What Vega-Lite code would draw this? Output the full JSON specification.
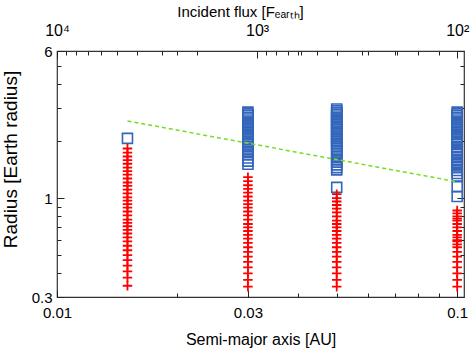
{
  "$schema": "https://vega.github.io/schema/vega-lite/v6.json",
  "width": 407,
  "height": 246,
  "autosize": "none",
  "padding": {"left": 57, "top": 51, "right": 11, "bottom": 55},
  "config": {
    "view": {"stroke": "#333333", "strokeWidth": 1.2},
    "axis": {
      "grid": false,
      "domain": false,
      "tickColor": "#222222",
      "tickWidth": 1,
      "tickSize": -5,
      "labelFont": "Liberation Sans",
      "labelFontSize": 15,
      "labelColor": "#000000",
      "titleFont": "Liberation Sans",
      "titleFontSize": 15,
      "titleFontWeight": "normal",
      "titleColor": "#000000",
      "labelFlush": false,
      "labelOverlap": false
    }
  },
  "datasets": {
    "planets": [
      {"a": 0.015, "r": 2.07, "kind": "blue"},
      {"a": 0.015, "r": 1.83, "kind": "red"}, {"a": 0.015, "r": 1.74, "kind": "red"}, {"a": 0.015, "r": 1.66, "kind": "red"}, {"a": 0.015, "r": 1.59, "kind": "red"}, {"a": 0.015, "r": 1.52, "kind": "red"}, {"a": 0.015, "r": 1.45, "kind": "red"}, {"a": 0.015, "r": 1.39, "kind": "red"}, {"a": 0.015, "r": 1.33, "kind": "red"}, {"a": 0.015, "r": 1.27, "kind": "red"}, {"a": 0.015, "r": 1.21, "kind": "red"}, {"a": 0.015, "r": 1.16, "kind": "red"}, {"a": 0.015, "r": 1.11, "kind": "red"}, {"a": 0.015, "r": 1.06, "kind": "red"}, {"a": 0.015, "r": 1.01, "kind": "red"}, {"a": 0.015, "r": 0.97, "kind": "red"}, {"a": 0.015, "r": 0.93, "kind": "red"}, {"a": 0.015, "r": 0.89, "kind": "red"}, {"a": 0.015, "r": 0.85, "kind": "red"}, {"a": 0.015, "r": 0.81, "kind": "red"}, {"a": 0.015, "r": 0.77, "kind": "red"}, {"a": 0.015, "r": 0.74, "kind": "red"}, {"a": 0.015, "r": 0.71, "kind": "red"}, {"a": 0.015, "r": 0.68, "kind": "red"}, {"a": 0.015, "r": 0.65, "kind": "red"}, {"a": 0.015, "r": 0.62, "kind": "red"}, {"a": 0.015, "r": 0.59, "kind": "red"}, {"a": 0.015, "r": 0.56, "kind": "red"}, {"a": 0.015, "r": 0.53, "kind": "red"}, {"a": 0.015, "r": 0.5, "kind": "red"}, {"a": 0.015, "r": 0.47, "kind": "red"}, {"a": 0.015, "r": 0.44, "kind": "red"}, {"a": 0.015, "r": 0.41, "kind": "red"}, {"a": 0.015, "r": 0.38, "kind": "red"}, {"a": 0.015, "r": 0.344, "kind": "red"},
      {"a": 0.03, "r": 2.85, "kind": "blue"}, {"a": 0.03, "r": 2.79, "kind": "blue"}, {"a": 0.03, "r": 2.73, "kind": "blue"}, {"a": 0.03, "r": 2.67, "kind": "blue"}, {"a": 0.03, "r": 2.62, "kind": "blue"}, {"a": 0.03, "r": 2.56, "kind": "blue"}, {"a": 0.03, "r": 2.51, "kind": "blue"}, {"a": 0.03, "r": 2.46, "kind": "blue"}, {"a": 0.03, "r": 2.41, "kind": "blue"}, {"a": 0.03, "r": 2.36, "kind": "blue"}, {"a": 0.03, "r": 2.31, "kind": "blue"}, {"a": 0.03, "r": 2.26, "kind": "blue"}, {"a": 0.03, "r": 2.21, "kind": "blue"}, {"a": 0.03, "r": 2.17, "kind": "blue"}, {"a": 0.03, "r": 2.12, "kind": "blue"}, {"a": 0.03, "r": 2.08, "kind": "blue"}, {"a": 0.03, "r": 2.04, "kind": "blue"}, {"a": 0.03, "r": 2.0, "kind": "blue"}, {"a": 0.03, "r": 1.96, "kind": "blue"}, {"a": 0.03, "r": 1.92, "kind": "blue"}, {"a": 0.03, "r": 1.88, "kind": "blue"}, {"a": 0.03, "r": 1.81, "kind": "blue"}, {"a": 0.03, "r": 1.75, "kind": "blue"}, {"a": 0.03, "r": 1.69, "kind": "blue"}, {"a": 0.03, "r": 1.63, "kind": "blue"}, {"a": 0.03, "r": 1.57, "kind": "blue"}, {"a": 0.03, "r": 1.51, "kind": "blue"},
      {"a": 0.03, "r": 1.29, "kind": "red"}, {"a": 0.03, "r": 1.23, "kind": "red"}, {"a": 0.03, "r": 1.17, "kind": "red"}, {"a": 0.03, "r": 1.12, "kind": "red"}, {"a": 0.03, "r": 1.07, "kind": "red"}, {"a": 0.03, "r": 1.02, "kind": "red"}, {"a": 0.03, "r": 0.97, "kind": "red"}, {"a": 0.03, "r": 0.93, "kind": "red"}, {"a": 0.03, "r": 0.89, "kind": "red"}, {"a": 0.03, "r": 0.85, "kind": "red"}, {"a": 0.03, "r": 0.81, "kind": "red"}, {"a": 0.03, "r": 0.77, "kind": "red"}, {"a": 0.03, "r": 0.73, "kind": "red"}, {"a": 0.03, "r": 0.7, "kind": "red"}, {"a": 0.03, "r": 0.67, "kind": "red"}, {"a": 0.03, "r": 0.64, "kind": "red"}, {"a": 0.03, "r": 0.61, "kind": "red"}, {"a": 0.03, "r": 0.58, "kind": "red"}, {"a": 0.03, "r": 0.55, "kind": "red"}, {"a": 0.03, "r": 0.52, "kind": "red"}, {"a": 0.03, "r": 0.49, "kind": "red"}, {"a": 0.03, "r": 0.46, "kind": "red"}, {"a": 0.03, "r": 0.43, "kind": "red"}, {"a": 0.03, "r": 0.4, "kind": "red"}, {"a": 0.03, "r": 0.37, "kind": "red"}, {"a": 0.03, "r": 0.34, "kind": "red"},
      {"a": 0.05, "r": 2.96, "kind": "blue"}, {"a": 0.05, "r": 2.9, "kind": "blue"}, {"a": 0.05, "r": 2.84, "kind": "blue"}, {"a": 0.05, "r": 2.78, "kind": "blue"}, {"a": 0.05, "r": 2.72, "kind": "blue"}, {"a": 0.05, "r": 2.66, "kind": "blue"}, {"a": 0.05, "r": 2.61, "kind": "blue"}, {"a": 0.05, "r": 2.55, "kind": "blue"}, {"a": 0.05, "r": 2.5, "kind": "blue"}, {"a": 0.05, "r": 2.45, "kind": "blue"}, {"a": 0.05, "r": 2.4, "kind": "blue"}, {"a": 0.05, "r": 2.35, "kind": "blue"}, {"a": 0.05, "r": 2.3, "kind": "blue"}, {"a": 0.05, "r": 2.25, "kind": "blue"}, {"a": 0.05, "r": 2.2, "kind": "blue"}, {"a": 0.05, "r": 2.16, "kind": "blue"}, {"a": 0.05, "r": 2.11, "kind": "blue"}, {"a": 0.05, "r": 2.07, "kind": "blue"}, {"a": 0.05, "r": 2.03, "kind": "blue"}, {"a": 0.05, "r": 1.99, "kind": "blue"}, {"a": 0.05, "r": 1.95, "kind": "blue"}, {"a": 0.05, "r": 1.91, "kind": "blue"}, {"a": 0.05, "r": 1.84, "kind": "blue"}, {"a": 0.05, "r": 1.78, "kind": "blue"}, {"a": 0.05, "r": 1.72, "kind": "blue"}, {"a": 0.05, "r": 1.66, "kind": "blue"}, {"a": 0.05, "r": 1.6, "kind": "blue"}, {"a": 0.05, "r": 1.55, "kind": "blue"}, {"a": 0.05, "r": 1.5, "kind": "blue"}, {"a": 0.05, "r": 1.45, "kind": "blue"}, {"a": 0.05, "r": 1.41, "kind": "blue"}, {"a": 0.05, "r": 1.14, "kind": "blue"},
      {"a": 0.05, "r": 1.05, "kind": "red"}, {"a": 0.05, "r": 1.0, "kind": "red"}, {"a": 0.05, "r": 0.96, "kind": "red"}, {"a": 0.05, "r": 0.92, "kind": "red"}, {"a": 0.05, "r": 0.88, "kind": "red"}, {"a": 0.05, "r": 0.84, "kind": "red"}, {"a": 0.05, "r": 0.8, "kind": "red"}, {"a": 0.05, "r": 0.76, "kind": "red"}, {"a": 0.05, "r": 0.73, "kind": "red"}, {"a": 0.05, "r": 0.7, "kind": "red"}, {"a": 0.05, "r": 0.67, "kind": "red"}, {"a": 0.05, "r": 0.64, "kind": "red"}, {"a": 0.05, "r": 0.61, "kind": "red"}, {"a": 0.05, "r": 0.58, "kind": "red"}, {"a": 0.05, "r": 0.55, "kind": "red"}, {"a": 0.05, "r": 0.52, "kind": "red"}, {"a": 0.05, "r": 0.49, "kind": "red"}, {"a": 0.05, "r": 0.46, "kind": "red"}, {"a": 0.05, "r": 0.43, "kind": "red"}, {"a": 0.05, "r": 0.4, "kind": "red"}, {"a": 0.05, "r": 0.37, "kind": "red"}, {"a": 0.05, "r": 0.34, "kind": "red"},
      {"a": 0.1, "r": 2.85, "kind": "blue"}, {"a": 0.1, "r": 2.79, "kind": "blue"}, {"a": 0.1, "r": 2.73, "kind": "blue"}, {"a": 0.1, "r": 2.67, "kind": "blue"}, {"a": 0.1, "r": 2.62, "kind": "blue"}, {"a": 0.1, "r": 2.56, "kind": "blue"}, {"a": 0.1, "r": 2.51, "kind": "blue"}, {"a": 0.1, "r": 2.46, "kind": "blue"}, {"a": 0.1, "r": 2.41, "kind": "blue"}, {"a": 0.1, "r": 2.36, "kind": "blue"}, {"a": 0.1, "r": 2.31, "kind": "blue"}, {"a": 0.1, "r": 2.26, "kind": "blue"}, {"a": 0.1, "r": 2.21, "kind": "blue"}, {"a": 0.1, "r": 2.17, "kind": "blue"}, {"a": 0.1, "r": 2.12, "kind": "blue"}, {"a": 0.1, "r": 2.08, "kind": "blue"}, {"a": 0.1, "r": 2.04, "kind": "blue"}, {"a": 0.1, "r": 2.0, "kind": "blue"}, {"a": 0.1, "r": 1.96, "kind": "blue"}, {"a": 0.1, "r": 1.92, "kind": "blue"}, {"a": 0.1, "r": 1.85, "kind": "blue"}, {"a": 0.1, "r": 1.78, "kind": "blue"}, {"a": 0.1, "r": 1.72, "kind": "blue"}, {"a": 0.1, "r": 1.66, "kind": "blue"}, {"a": 0.1, "r": 1.6, "kind": "blue"}, {"a": 0.1, "r": 1.55, "kind": "blue"}, {"a": 0.1, "r": 1.5, "kind": "blue"}, {"a": 0.1, "r": 1.45, "kind": "blue"}, {"a": 0.1, "r": 1.4, "kind": "blue"}, {"a": 0.1, "r": 1.35, "kind": "blue"}, {"a": 0.1, "r": 1.31, "kind": "blue"}, {"a": 0.1, "r": 1.15, "kind": "blue"}, {"a": 0.1, "r": 1.02, "kind": "blue"},
      {"a": 0.1, "r": 0.86, "kind": "red"}, {"a": 0.1, "r": 0.83, "kind": "red"}, {"a": 0.1, "r": 0.8, "kind": "red"}, {"a": 0.1, "r": 0.78, "kind": "red"}, {"a": 0.1, "r": 0.76, "kind": "red"}, {"a": 0.1, "r": 0.73, "kind": "red"}, {"a": 0.1, "r": 0.7, "kind": "red"}, {"a": 0.1, "r": 0.67, "kind": "red"}, {"a": 0.1, "r": 0.64, "kind": "red"}, {"a": 0.1, "r": 0.62, "kind": "red"}, {"a": 0.1, "r": 0.6, "kind": "red"}, {"a": 0.1, "r": 0.59, "kind": "red"}, {"a": 0.1, "r": 0.57, "kind": "red"}, {"a": 0.1, "r": 0.55, "kind": "red"}, {"a": 0.1, "r": 0.52, "kind": "red"}, {"a": 0.1, "r": 0.49, "kind": "red"}, {"a": 0.1, "r": 0.46, "kind": "red"}, {"a": 0.1, "r": 0.43, "kind": "red"}, {"a": 0.1, "r": 0.4, "kind": "red"}, {"a": 0.1, "r": 0.37, "kind": "red"}, {"a": 0.1, "r": 0.34, "kind": "red"}
    ],
    "fit": [{"a": 0.015, "r": 2.56}, {"a": 0.1, "r": 1.22}],
    "fluxaxis": [{"flux": 1000}],
    "mirror": [{"a": 0.05, "r": 1}]
  },
  "layer": [
    {
      "encoding": {
        "x": {
          "field": "a", "type": "quantitative",
          "scale": {"type": "log", "domain": [0.01, 0.104], "nice": false},
          "axis": {
            "orient": "bottom",
            "values": [0.01, 0.02, 0.03, 0.04, 0.05, 0.06, 0.07, 0.08, 0.09, 0.1],
            "labelExpr": "datum.value == 0.01 ? '0.01' : datum.value == 0.03 ? '0.03' : datum.value == 0.1 ? '0.1' : ''",
            "tickSize": {"condition": {"test": "datum.value == 0.01 || datum.value == 0.03 || datum.value == 0.1", "value": -7}, "value": -4},
            "labelPadding": 15,
            "title": "Semi-major axis [AU]",
            "titleFontSize": 16,
            "titlePadding": 8
          }
        },
        "y": {
          "field": "r", "type": "quantitative",
          "scale": {"type": "log", "domain": [0.3, 6], "nice": false},
          "axis": {
            "orient": "left",
            "values": [0.3, 0.4, 0.5, 0.6, 0.7, 0.8, 0.9, 1, 2, 3, 4, 5, 6],
            "labelExpr": "datum.value == 0.3 ? '0.3' : datum.value == 1 ? '1' : datum.value == 6 ? '6' : ''",
            "tickSize": {"condition": {"test": "datum.value == 0.3 || datum.value == 1 || datum.value == 6", "value": -7}, "value": -4},
            "labelPadding": 12,
            "title": "Radius [Earth radius]",
            "titleFontSize": 19,
            "titleX": -41,
            "titleY": 108,
            "titleBaseline": "alphabetic"
          }
        }
      },
      "layer": [
        {
          "data": {"name": "planets"},
          "transform": [{"filter": "datum.kind == 'blue'"}],
          "mark": {"type": "point", "shape": "square", "size": 100, "filled": false, "stroke": "#3366bb", "strokeWidth": 1.6, "opacity": 1}
        },
        {
          "data": {"name": "planets"},
          "transform": [{"filter": "datum.kind == 'red'"}],
          "mark": {"type": "point", "shape": "M-1,0H1M0,-1V1", "size": 90, "filled": false, "stroke": "#ff0000", "strokeWidth": 1.8, "opacity": 1}
        },
        {
          "data": {"name": "fit"},
          "mark": {"type": "line", "color": "#77dd22", "strokeDash": [4, 3], "strokeWidth": 1.5}
        }
      ]
    },
    {
      "data": {"name": "fluxaxis"},
      "mark": {"type": "point", "opacity": 0},
      "encoding": {
        "x": {
          "field": "flux", "type": "quantitative",
          "scale": {"type": "log", "domain": [92.46, 10000], "reverse": true, "nice": false},
          "axis": {
            "orient": "top",
            "values": [10000, 9000, 8000, 7000, 6000, 5000, 4000, 3000, 2000, 1000, 900, 800, 700, 600, 500, 400, 300, 200, 100],
            "labelExpr": "datum.value == 10000 ? '10⁴' : datum.value == 1000 ? '10³' : datum.value == 100 ? '10²' : ''",
            "tickSize": {"condition": {"test": "datum.value == 10000 || datum.value == 1000 || datum.value == 100", "value": -7}, "value": -4},
            "labelPadding": 20,
            "labelFontSize": 16,
            "title": "Incident flux [Fₑₐᵣₜₕ]",
            "titleX": 183,
            "titlePadding": 0
          }
        }
      }
    },
    {
      "data": {"name": "mirror"},
      "mark": {"type": "point", "opacity": 0},
      "encoding": {
        "x": {
          "field": "a", "type": "quantitative",
          "scale": {"type": "log", "domain": [0.01, 0.104], "nice": false},
          "axis": {
            "orient": "top",
            "values": [0.02, 0.04, 0.05, 0.06, 0.07, 0.08, 0.09],
            "tickSize": -4,
            "labels": false,
            "title": null
          }
        },
        "y": {
          "field": "r", "type": "quantitative",
          "scale": {"type": "log", "domain": [0.3, 6], "nice": false},
          "axis": {
            "orient": "right",
            "values": [0.3, 0.4, 0.5, 0.6, 0.7, 0.8, 0.9, 1, 2, 3, 4, 5, 6],
            "tickSize": {"condition": {"test": "datum.value == 0.3 || datum.value == 1 || datum.value == 6", "value": -7}, "value": -4},
            "labels": false,
            "title": null
          }
        }
      }
    }
  ],
  "resolve": {
    "scale": {"x": "independent", "y": "independent"},
    "axis": {"x": "independent", "y": "independent"}
  }
}
